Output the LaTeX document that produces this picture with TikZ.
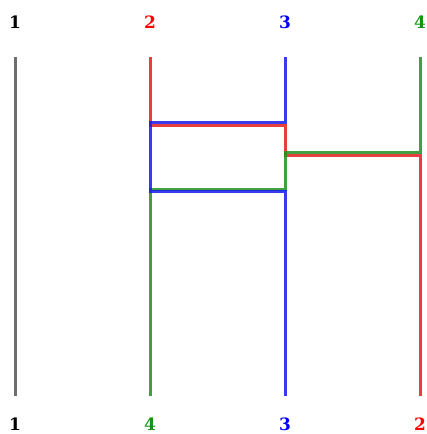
\documentclass[tikz,border=0pt]{standalone}
\usepackage{fontspec}
\setmainfont{DejaVu Serif}
\usepackage{xcolor}
\usepackage{tikz}
\usetikzlibrary{positioning, calc}
\definecolor{cred}{RGB}{225,30,30}
\definecolor{cblue}{RGB}{25,25,235}
\definecolor{cgreen}{RGB}{30,145,30}
\definecolor{cgray}{RGB}{85,85,85}
\definecolor{tred}{RGB}{255,0,0}
\definecolor{tblue}{RGB}{0,0,255}
\definecolor{tgreen}{RGB}{20,150,20}

\begin{document}
\begin{tikzpicture}[
    x=1pt, y=-1pt,
    lane/.style={line width=3pt, opacity=0.85, line join=miter},
    lbl/.style={font=\fontsize{17}{17}\selectfont\bfseries, inner sep=0pt},
]
    \useasboundingbox (0,0) rectangle (426,434);

    % Top labels
    \node[lbl] (top1) at (15,22) {1};
    \node[lbl, tred] (top2) at (150,22) {2};
    \node[lbl, tblue] (top3) at (285,22) {3};
    \node[lbl, tgreen] (top4) at (420,22) {4};

    % Bottom labels
    \node[lbl] (bot1) at (15,424) {1};
    \node[lbl, tgreen] (bot2) at (150,424) {4};
    \node[lbl, tblue] (bot3) at (285,424) {3};
    \node[lbl, tred] (bot4) at (420,424) {2};

    % Lane ends
    \coordinate (t1) at (15,57);
    \coordinate (t2) at (150,57);
    \coordinate (t3) at (285,57);
    \coordinate (t4) at (420,57);
    \coordinate (b1) at (15,396);
    \coordinate (b2) at (150,396);
    \coordinate (b3) at (285,396);
    \coordinate (b4) at (420,396);

    % Paths
    \draw[lane, cgray] (t1) -- (b1);
    \draw[lane, cred] (t2) -- (150,125) -- (285,125) -- (285,155) -- (420,155) -- (b4);
    \draw[lane, cgreen] (t4) -- (420,152) -- (285,152) -- (285,189) -- (150,189) -- (b2);
    \draw[lane, cblue] (t3) -- (285,122) -- (150,122) -- (150,191) -- (285,191) -- (b3);
\end{tikzpicture}
\end{document}
